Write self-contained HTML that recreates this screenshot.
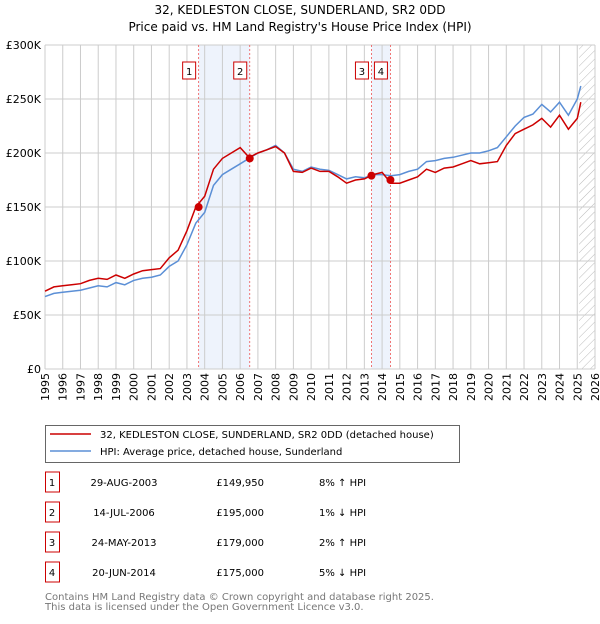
<!DOCTYPE html>
<html><head><meta charset="utf-8"><style>
body{margin:0;background:#fff;font-family:"DejaVu Sans","Liberation Sans",sans-serif;}
svg text{font-family:"DejaVu Sans","Liberation Sans",sans-serif;}
</style></head><body>
<svg id="c" width="600" height="620" xmlns="http://www.w3.org/2000/svg">
<text x="300" y="14" font-size="12" text-anchor="middle">32, KEDLESTON CLOSE, SUNDERLAND, SR2 0DD</text>
<text x="300" y="31" font-size="12" text-anchor="middle">Price paid vs. HM Land Registry's House Price Index (HPI)</text>
<defs><pattern id="h" width="6" height="6" patternUnits="userSpaceOnUse" patternTransform="rotate(45)"><line x1="0" y1="0" x2="0" y2="6" stroke="#bbb" stroke-width="1"/></pattern></defs>
<g id="plot"></g>
<g>
<rect x="45.5" y="425.5" width="414" height="37" fill="#fff" stroke="#666"/>
<line x1="50" y1="434" x2="91" y2="434" stroke="#c00" stroke-width="1.5"/>
<text x="100" y="438" font-size="10">32, KEDLESTON CLOSE, SUNDERLAND, SR2 0DD (detached house)</text>
<line x1="50" y1="451" x2="91" y2="451" stroke="#5b8fd6" stroke-width="1.5"/>
<text x="100" y="455" font-size="10">HPI: Average price, detached house, Sunderland</text>
</g>
<g id="tbl" font-size="10"></g>
<text x="45" y="600" font-size="10" fill="#777">Contains HM Land Registry data © Crown copyright and database right 2025.</text>
<text x="45" y="610" font-size="10" fill="#777">This data is licensed under the Open Government Licence v3.0.</text>
</svg>
<script>
const years=[1995,1995.5,1996,1996.5,1997,1997.5,1998,1998.5,1999,1999.5,2000,2000.5,2001,2001.5,2002,2002.5,2003,2003.5,2004,2004.5,2005,2005.5,2006,2006.5,2007,2007.5,2008,2008.5,2009,2009.5,2010,2010.5,2011,2011.5,2012,2012.5,2013,2013.5,2014,2014.5,2015,2015.5,2016,2016.5,2017,2017.5,2018,2018.5,2019,2019.5,2020,2020.5,2021,2021.5,2022,2022.5,2023,2023.5,2024,2024.5,2025,2025.2];
const hpi=[67,70,71,72,73,75,77,76,80,78,82,84,85,87,95,100,115,135,145,170,180,185,190,195,200,203,207,200,185,183,187,185,184,180,176,178,177,180,180,179,180,183,185,192,193,195,196,198,200,200,202,205,215,225,233,236,245,238,247,235,250,262];
const price=[72,76,77,78,79,82,84,83,87,84,88,91,92,93,103,110,128,150,160,185,195,200,205,196,200,203,206,200,183,182,186,183,183,178,172,175,176,180,182,172,172,175,178,185,182,186,187,190,193,190,191,192,207,218,222,226,232,224,235,222,232,247];
const saleYears=[2003.66,2006.54,2013.4,2014.47];
const salePrices=[149.95,195,179,175];
const saleLabels=["1","2","3","4"];
const saleDates=["29-AUG-2003","14-JUL-2006","24-MAY-2013","20-JUN-2014"];
const saleText=["£149,950","£195,000","£179,000","£175,000"];
const saleHpi=["8% ↑ HPI","1% ↓ HPI","2% ↑ HPI","5% ↓ HPI"];
const yTicks=[0,50,100,150,200,250,300];
const yLabels=["£0","£50K","£100K","£150K","£200K","£250K","£300K"];
const X0=45,X1=595,Y0=369,Y1=45;
const x=v=>X0+(v-1995)/31*(X1-X0);
const y=v=>Y0-v/300*(Y0-Y1);
const NS="http://www.w3.org/2000/svg";
const g=document.getElementById('plot');
function mk(t,a,p){const e=document.createElementNS(NS,t);for(const k in a)e.setAttribute(k,a[k]);(p||g).appendChild(e);return e;}
for(const [a,b] of [[0,1],[2,3]]){const r=mk('rect',{x:x(saleYears[a]),y:Y1,width:x(saleYears[b])-x(saleYears[a]),height:Y0-Y1,fill:'#eef3fc'});

}
const hr=mk('rect',{x:x(2025.1),y:Y1,width:X1-x(2025.1),height:Y0-Y1,fill:'url(#h)'});


for(let yr=1995;yr<=2026;yr++){const l=mk('line',{x1:x(yr),x2:x(yr),y1:Y1,y2:Y0,stroke:'#ccc'});


const tx=x(yr)+4,ty=373;
const t=mk('text',{x:tx,y:ty,'font-size':11,'text-anchor':'end',transform:`rotate(-90 ${tx} ${ty})`});t.textContent=yr;

}
yTicks.forEach((v,i)=>{const l=mk('line',{x1:X0,x2:X1,y1:y(v),y2:y(v),stroke:'#ccc'});


const t=mk('text',{x:X0-4,y:y(v)+4,'font-size':11,'text-anchor':'end'});t.textContent=yLabels[i];

});
saleYears.forEach((s,i)=>{const l=mk('line',{x1:x(s),x2:x(s),y1:Y1,y2:Y0,stroke:'#e55','stroke-dasharray':'2,2','stroke-width':0.8});


const bx=mk('rect',{x:x(s)-16,y:62,width:13,height:17,fill:'#fff',stroke:'#c00'});


const t=mk('text',{x:x(s)-9.5,y:75,'font-size':10,'text-anchor':'middle'});t.textContent=saleLabels[i];

});
function line(arr,col,name){const p=mk('path',{d:arr.map((v,i)=>(i?'L':'M')+x(years[i]).toFixed(1)+','+y(v).toFixed(1)).join(''),fill:'none',stroke:col,'stroke-width':1.5});

}
line(hpi,'#5b8fd6','hpi-line');
line(price,'#c00','price-line');
saleYears.forEach((s,i)=>{const c=mk('circle',{cx:x(s),cy:y(salePrices[i]),r:4,fill:'#c00'});

});
const tb=document.getElementById('tbl');
saleLabels.forEach((l,i)=>{const yy=483+i*30;
const r=mk('rect',{x:45.5,y:yy-11,width:14,height:20,fill:'#fff',stroke:'#c00'},tb);


const cols=[[52,l,'middle'],[124,saleDates[i],'middle'],[264,saleText[i],'end'],[319,saleHpi[i],'start']];
cols.forEach(([cx,txt,an])=>{const t=mk('text',{x:cx,y:yy+3,'text-anchor':an},tb);t.textContent=txt;

});});
</script>
</body></html>
